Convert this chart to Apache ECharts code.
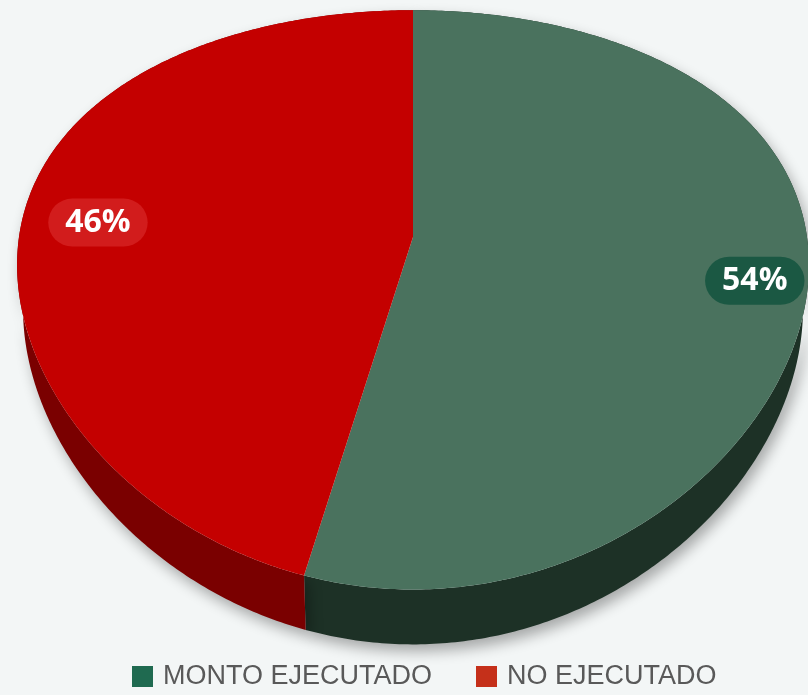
<!DOCTYPE html>
<html>
<head>
<meta charset="utf-8">
<script src="https://cdn.jsdelivr.net/npm/echarts@6/dist/echarts.min.js"></script>
<style>
html, body { margin: 0; padding: 0; background: #f3f6f6; }
#chart { width: 808px; height: 695px; }
</style>
</head>
<body>
<div id="chart"></div>
<script>
// 数据
var categories = ['MONTO EJECUTADO', 'NO EJECUTADO'];
var values = [54, 46];
var labels = ['54%', '46%'];

// 颜色
var topColors = ['#4a725e', '#c40000'];
var sideColors = ['#1d3126', '#7a0000'];
var pillColors = ['#1b5843', '#d21c1c'];
var legendColors = ['#1f6a50', '#c5301a'];

// 透视参数 (顶面圆心在 cx, cy)
var cx = 413, cy = 237, R = 394, S = 276, persp = -0.217, px = 0.45;
var depth = 43, shrink = 0.985;

var total = 0;
var starts = [];
values.forEach(function (v) { starts.push(total); total += v; });

// 圆盘坐标 (u, v) -> 屏幕坐标, v = 1 为前方
function proj(u, v, bottom) {
    var w = 1 + persp * v;
    var x = R * u / Math.pow(w, px);
    var y = cy + S * v / w;
    if (bottom) {
        x = x * shrink;
        y = y + depth / w;
    }
    return [cx + x, y];
}

function pt(a, bottom) {
    return proj(Math.sin(a), -Math.cos(a), bottom);
}

function arc(a0, a1, bottom) {
    var pts = [];
    var n = Math.max(8, Math.ceil((a1 - a0) / 0.01));
    for (var k = 0; k <= n; k++) {
        pts.push(pt(a0 + (a1 - a0) * k / n, bottom));
    }
    return pts;
}

function angles(i, v) {
    var a0 = starts[i] / total * Math.PI * 2;
    return [a0, a0 + v / total * Math.PI * 2];
}

// 侧面
function sideRender(i) {
    return function (params, api) {
        var a = angles(i, api.value(0));
        var pts = arc(a[0], a[1], false).concat(arc(a[0], a[1], true).reverse());
        return {
            type: 'polygon',
            shape: { points: pts },
            style: {
                fill: sideColors[i],
                shadowColor: 'rgba(0,0,0,0.32)',
                shadowBlur: 14,
                shadowOffsetX: 4,
                shadowOffsetY: 7
            }
        };
    };
}

// 顶面 + 标签
function topRender(i) {
    return function (params, api) {
        var a = angles(i, api.value(0));
        var pts = [[cx, cy]].concat(arc(a[0], a[1], false));
        var mid = (a[0] + a[1]) / 2;
        var f = 0.84;
        var lp = proj(f * Math.sin(mid), -f * Math.cos(mid), false);
        return {
            type: 'group',
            children: [{
                type: 'polygon',
                shape: { points: pts },
                style: { fill: topColors[i] }
            }, {
                type: 'text',
                x: lp[0] + 10,
                y: lp[1] + 14,
                style: {
                    text: labels[i],
                    fill: '#ffffff',
                    font: 'bold 32px "Open Sans", sans-serif',
                    align: 'center',
                    verticalAlign: 'middle',
                    backgroundColor: pillColors[i],
                    padding: [9, 17, 7, 17],
                    borderRadius: 28
                }
            }]
        };
    };
}

var series = [];
categories.forEach(function (name, i) {
    series.push({
        type: 'custom',
        name: name,
        coordinateSystem: 'none',
        z: 1,
        silent: true,
        itemStyle: { color: legendColors[i] },
        renderItem: sideRender(i),
        data: [[values[i]]]
    });
});
categories.forEach(function (name, i) {
    series.push({
        type: 'custom',
        name: name,
        coordinateSystem: 'none',
        z: 2,
        silent: true,
        itemStyle: { color: legendColors[i] },
        renderItem: topRender(i),
        data: [[values[i]]]
    });
});

var myChart = echarts.init(document.getElementById('chart'));
var option = {
    backgroundColor: '#f3f6f6',
    animation: false,
    legend: {
        left: 127,
        bottom: 0,
        itemWidth: 21,
        itemHeight: 21,
        itemGap: 44,
        icon: 'rect',
        textStyle: {
            fontSize: 27,
            color: '#595959',
            fontFamily: '"Liberation Sans", sans-serif',
            padding: [0, 0, 0, 5]
        },
        data: categories.map(function (n, i) {
            return { name: n, itemStyle: { color: legendColors[i] } };
        })
    },
    series: series
};
myChart.setOption(option);
</script>
</body>
</html>
